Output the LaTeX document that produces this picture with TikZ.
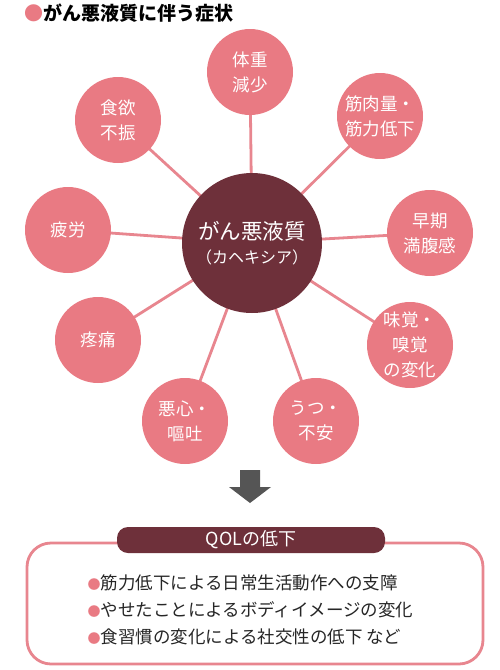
\documentclass[tikz,border=0pt]{standalone}
\usepackage{fontspec}
\setmainfont{Noto Sans CJK JP}
\usetikzlibrary{backgrounds}
\definecolor{pinkfill}{HTML}{E97A83}
\definecolor{pinkline}{HTML}{E8868F}
\definecolor{maroon}{HTML}{6E303A}
\definecolor{arrowgray}{HTML}{555555}
\tikzset{
  sym/.style={circle, fill=pinkfill, minimum size=86pt, inner sep=0pt, text=white, align=center, font=\fontsize{17.5}{25}\selectfont},
  hub/.style={circle, fill=maroon, minimum size=140pt, inner sep=0pt, text=white, align=center},
  spoke/.style={draw=pinkline, line width=2.8pt},
  bul/.style={anchor=west, font=\fontsize{17.5}{20}\selectfont, text=black!85},
}
\begin{document}
\begin{tikzpicture}[x=1pt,y=-1pt]
\useasboundingbox (0,0) rectangle (500,670);
% title
\node[anchor=west, inner sep=0pt, font=\fontsize{19}{22}\selectfont\bfseries] (title) at (24,13) {\textcolor{pinkfill}{●}がん悪液質に伴う症状};
% hub
\node[hub] (cen) at (252,243) {\fontsize{21.5}{24}\selectfont がん悪液質\\[7pt]\fontsize{16}{18}\selectfont （カヘキシア）};
% symptoms
\node[sym] (s1) at (250,72) {体重\\減少};
\node[sym] (s2) at (380,116) {筋肉量・\\筋力低下};
\node[sym] (s3) at (430,233) {早期\\満腹感};
\node[sym] (s4) at (410,345) {味覚・\\嗅覚\\の変化};
\node[sym] (s5) at (316,421) {うつ・\\不安};
\node[sym] (s6) at (185,421) {悪心・\\嘔吐};
\node[sym] (s7) at (98,340) {疼痛};
\node[sym] (s8) at (68,230) {疲労};
\node[sym] (s9) at (118,120) {食欲\\不振};
\begin{scope}[on background layer]
\foreach \s in {s1,s2,s3,s4,s5,s6,s7,s8,s9}
  \draw[spoke] (cen.center) -- (\s.center);
\end{scope}
% down arrow
\fill[arrowgray] (240,470) -- (260,470) -- (260,487) -- (271,487) -- (250,503) -- (229,487) -- (240,487) -- cycle;
% QOL box
\draw[draw=pinkline, line width=2.8pt, rounded corners=24pt, fill=white] (27,543) rectangle (483,664);
\node[fill=maroon, rounded corners=11pt, minimum width=268pt, minimum height=26pt, text=white, font=\fontsize{18}{20}\selectfont] (qol) at (251,540) {QOLの低下};
\node[bul] (b1) at (84,583) {\textcolor{pinkfill}{\fontsize{13}{13}\selectfont ●}筋力低下による日常生活動作への支障};
\node[bul] (b2) at (84,610) {\textcolor{pinkfill}{\fontsize{13}{13}\selectfont ●}やせたことによるボディイメージの変化};
\node[bul] (b3) at (84,637) {\textcolor{pinkfill}{\fontsize{13}{13}\selectfont ●}食習慣の変化による社交性の低下 など};
\end{tikzpicture}
\end{document}
